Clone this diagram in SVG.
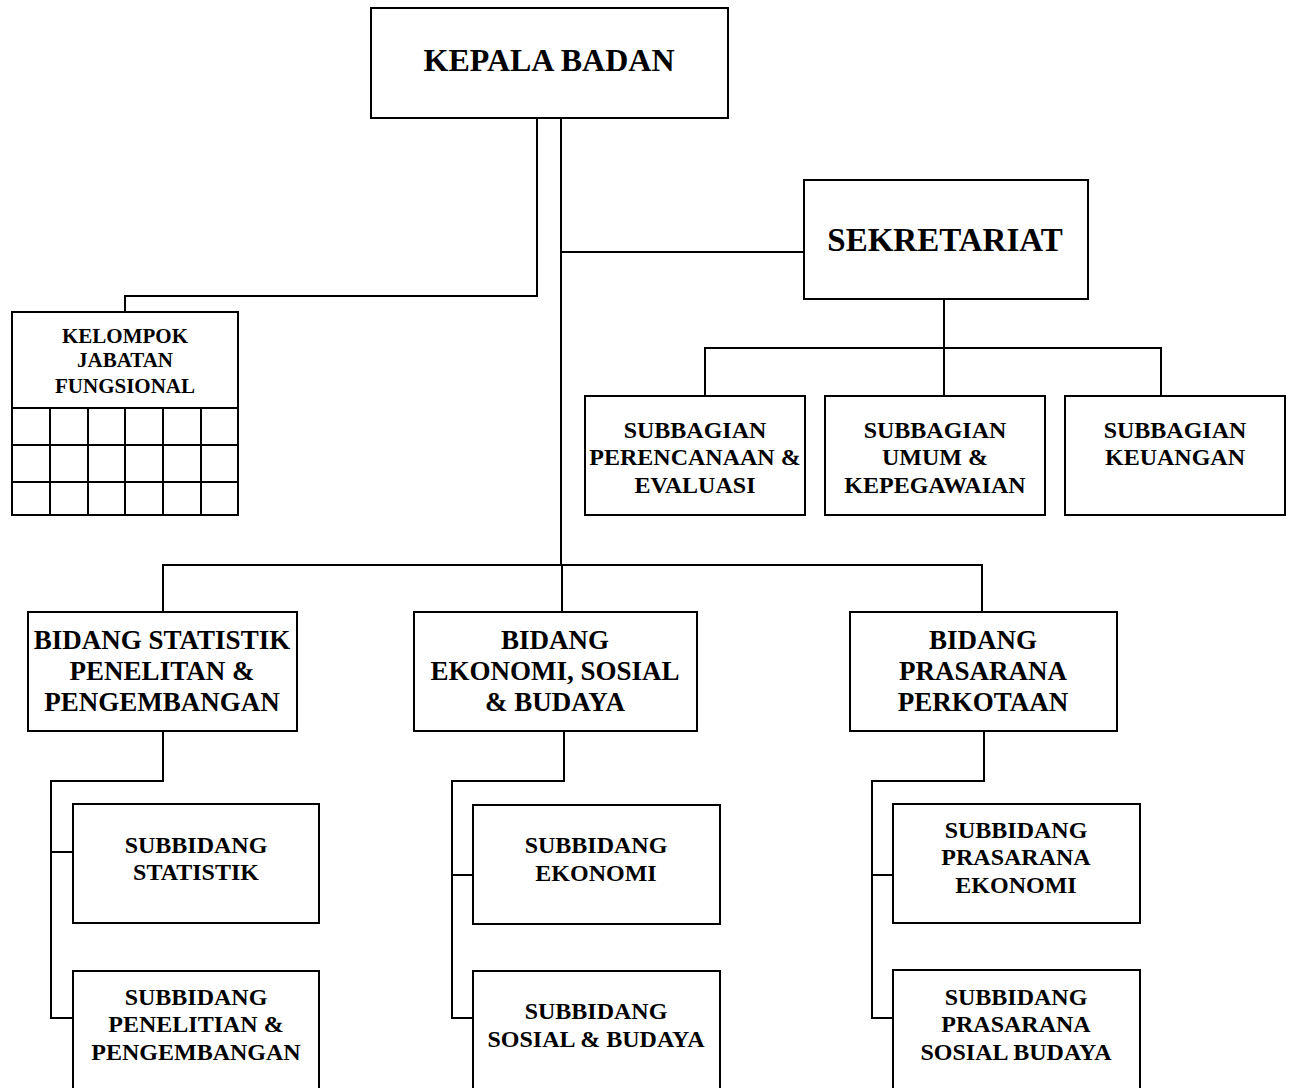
<svg xmlns="http://www.w3.org/2000/svg" width="1293" height="1088" viewBox="0 0 1293 1088">
<style>
.box{fill:#fff;stroke:#000;stroke-width:2}
.ln{fill:none;stroke:#000;stroke-width:2}
text{font-family:"Liberation Serif","Times New Roman",serif;font-weight:bold;text-anchor:middle;fill:#000}
.t1{font-size:32px}
.t1b{font-size:33px}
.t2{font-size:27px}
.t3{font-size:24px}
.t4{font-size:21px}
</style>
<rect width="1293" height="1088" fill="#fff"/>
<g id="connectors" class="ln">
<polyline points="537,118 537,296 125,296 125,312"/>
<line x1="561" y1="118" x2="561" y2="565"/>
<line x1="561" y1="252" x2="804" y2="252"/>
<line x1="944" y1="299" x2="944" y2="396"/>
<polyline points="705,396 705,348 1161,348 1161,396"/>
<polyline points="163,612 163,565 982,565 982,612"/>
<line x1="562" y1="565" x2="562" y2="612"/>
<polyline points="163,731 163,781 51,781 51,1018 73,1018"/>
<line x1="51" y1="852" x2="73" y2="852"/>
<polyline points="564,731 564,781 452,781 452,1018 473,1018"/>
<line x1="452" y1="875" x2="473" y2="875"/>
<polyline points="984,731 984,781 872,781 872,1018 893,1018"/>
<line x1="872" y1="875" x2="893" y2="875"/>
</g>
<g id="kepala-badan">
<rect class="box" x="371" y="8" width="357" height="110"/>
<text class="t1" x="549" y="71">KEPALA BADAN</text>
</g>
<g id="sekretariat">
<rect class="box" x="804" y="180" width="284" height="119"/>
<text class="t1b" x="945" y="251">SEKRETARIAT</text>
</g>
<g id="kelompok-jabatan-fungsional">
<rect class="box" x="12" y="312" width="226" height="203"/>
<g class="ln">
<line x1="12" y1="408" x2="238" y2="408"/>
<line x1="12" y1="445" x2="238" y2="445"/>
<line x1="12" y1="482" x2="238" y2="482"/>
<line x1="50" y1="408" x2="50" y2="515"/>
<line x1="88" y1="408" x2="88" y2="515"/>
<line x1="125" y1="408" x2="125" y2="515"/>
<line x1="163" y1="408" x2="163" y2="515"/>
<line x1="201" y1="408" x2="201" y2="515"/>
</g>
<text class="t4" x="125" y="343">KELOMPOK</text>
<text class="t4" x="125" y="367">JABATAN</text>
<text class="t4" x="125" y="393">FUNGSIONAL</text>
</g>
<g id="subbagian-perencanaan">
<rect class="box" x="585" y="396" width="220" height="119"/>
<text class="t3" x="695" y="438">SUBBAGIAN</text>
<text class="t3" x="695" y="465">PERENCANAAN &amp;</text>
<text class="t3" x="695" y="493">EVALUASI</text>
</g>
<g id="subbagian-umum">
<rect class="box" x="825" y="396" width="220" height="119"/>
<text class="t3" x="935" y="438">SUBBAGIAN</text>
<text class="t3" x="935" y="465">UMUM &amp;</text>
<text class="t3" x="935" y="493">KEPEGAWAIAN</text>
</g>
<g id="subbagian-keuangan">
<rect class="box" x="1065" y="396" width="220" height="119"/>
<text class="t3" x="1175" y="438">SUBBAGIAN</text>
<text class="t3" x="1175" y="465">KEUANGAN</text>
</g>
<g id="bidang-statistik">
<rect class="box" x="28" y="612" width="269" height="119"/>
<text class="t2" x="162" y="649">BIDANG STATISTIK</text>
<text class="t2" x="162" y="680">PENELITAN &amp;</text>
<text class="t2" x="162" y="711">PENGEMBANGAN</text>
</g>
<g id="bidang-ekonomi">
<rect class="box" x="414" y="612" width="283" height="119"/>
<text class="t2" x="555" y="649">BIDANG</text>
<text class="t2" x="555" y="680">EKONOMI, SOSIAL</text>
<text class="t2" x="555" y="711">&amp; BUDAYA</text>
</g>
<g id="bidang-prasarana">
<rect class="box" x="850" y="612" width="267" height="119"/>
<text class="t2" x="983" y="649">BIDANG</text>
<text class="t2" x="983" y="680">PRASARANA</text>
<text class="t2" x="983" y="711">PERKOTAAN</text>
</g>
<g id="subbidang-statistik">
<rect class="box" x="73" y="804" width="246" height="119"/>
<text class="t3" x="196" y="853">SUBBIDANG</text>
<text class="t3" x="196" y="880">STATISTIK</text>
</g>
<g id="subbidang-penelitian">
<rect class="box" x="73" y="971" width="246" height="130"/>
<text class="t3" x="196" y="1005">SUBBIDANG</text>
<text class="t3" x="196" y="1032">PENELITIAN &amp;</text>
<text class="t3" x="196" y="1060">PENGEMBANGAN</text>
</g>
<g id="subbidang-ekonomi">
<rect class="box" x="473" y="805" width="247" height="119"/>
<text class="t3" x="596" y="853">SUBBIDANG</text>
<text class="t3" x="596" y="881">EKONOMI</text>
</g>
<g id="subbidang-sosial-budaya">
<rect class="box" x="473" y="971" width="247" height="130"/>
<text class="t3" x="596" y="1019">SUBBIDANG</text>
<text class="t3" x="596" y="1047">SOSIAL &amp; BUDAYA</text>
</g>
<g id="subbidang-prasarana-ekonomi">
<rect class="box" x="893" y="804" width="247" height="119"/>
<text class="t3" x="1016" y="838">SUBBIDANG</text>
<text class="t3" x="1016" y="865">PRASARANA</text>
<text class="t3" x="1016" y="893">EKONOMI</text>
</g>
<g id="subbidang-prasarana-sosial">
<rect class="box" x="893" y="970" width="247" height="131"/>
<text class="t3" x="1016" y="1005">SUBBIDANG</text>
<text class="t3" x="1016" y="1032">PRASARANA</text>
<text class="t3" x="1016" y="1060">SOSIAL BUDAYA</text>
</g>
</svg>
